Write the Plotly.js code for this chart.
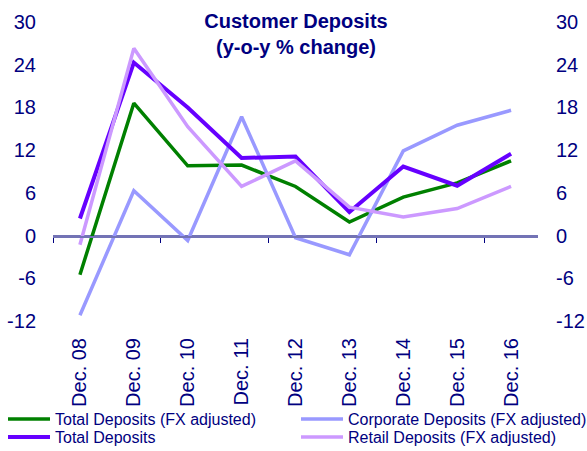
<!DOCTYPE html>
<html>
<head>
<meta charset="utf-8">
<script src="https://cdn.plot.ly/plotly-3.0.1.min.js"></script>
<style>html,body{margin:0;padding:0;background:#fff;}#chart{width:587px;height:451px;}</style>
</head>
<body>
<div id="chart"></div>
<script>
const categories = ["Dec. 08","Dec. 09","Dec. 10","Dec. 11","Dec. 12","Dec. 13","Dec. 14","Dec. 15","Dec. 16"];
const totalFxAdjusted = [-5.5, 18.6, 9.8, 9.9, 6.9, 1.9, 5.4, 7.4, 10.5];
const corporateFxAdjusted = [-11.2, 6.3, -0.7, 16.7, -0.3, -2.7, 11.9, 15.5, 17.6];
const totalDeposits = [2.4, 24.3, 18.0, 10.9, 11.1, 3.3, 9.7, 7.0, 11.5];
const retailFxAdjusted = [-1.3, 26.3, 15.3, 6.9, 10.5, 4.0, 2.6, 3.8, 6.9];
const seriesNames = ["Total Deposits (FX adjusted)", "Corporate Deposits (FX adjusted)", "Total Deposits", "Retail Deposits (FX adjusted)"];
const yTickVals = [-12, -6, 0, 6, 12, 18, 24, 30];
const yTickText = ["-12", "-6", "0", "6", "12", "18", "24", "30"];
const xBoundaryTicks = [-0.5, 1.5, 3.5, 5.5, 7.5];

// category positions on the axis (one per category)
const xPos = categories.map((_, i) => i);

const navy = "#000080";
const axisBlue = "#7373B5";
const font = "Liberation Sans, Arial, sans-serif";
const yMin = -12, yMax = 30;
const zeroFrac = (0 - yMin) / (yMax - yMin);

const traces = [
  {x: xPos, y: totalFxAdjusted, name: seriesNames[0], type: "scatter", mode: "lines", line: {color: "#008000", width: 3.5}, legend: "legend"},
  {x: xPos, y: corporateFxAdjusted, name: seriesNames[1], type: "scatter", mode: "lines", line: {color: "#9999FF", width: 3.5}, legend: "legend2"},
  {x: xPos, y: totalDeposits, name: seriesNames[2], type: "scatter", mode: "lines", line: {color: "#6600FF", width: 4}, legend: "legend3"},
  {x: xPos, y: retailFxAdjusted, name: seriesNames[3], type: "scatter", mode: "lines", line: {color: "#CC99FF", width: 3.5}, legend: "legend4"},
  // invisible helpers so that the right-hand axis and the zero-line category axis get drawn
  {x: xPos, y: totalDeposits, yaxis: "y2", type: "scatter", mode: "lines", line: {width: 0}, opacity: 0, showlegend: false, hoverinfo: "skip"},
  {x: xPos, y: totalDeposits, xaxis: "x2", yaxis: "y3", type: "scatter", mode: "lines", line: {width: 0}, opacity: 0, showlegend: false, hoverinfo: "skip"}
];

function legendAt(x, yTop) {
  return {orientation: "v", xref: "container", yref: "container", x: x/587, xanchor: "left", y: 1 - yTop/451, yanchor: "top",
          font: {size: 16, color: navy, family: font}, itemwidth: 42, bgcolor: "rgba(0,0,0,0)", borderwidth: 0};
}

const layout = {
  width: 587, height: 451,
  margin: {l: 53, r: 49, t: 22, b: 130, autoexpand: false},
  paper_bgcolor: "#fff", plot_bgcolor: "rgba(0,0,0,0)",
  font: {family: font, color: navy, size: 20},
  showlegend: true,
  title: {text: "<b>Customer Deposits<br>(y-o-y % change)</b>", font: {size: 20, color: navy, family: font},
          x: 296/587, xanchor: "center", xref: "container", y: 1 - 28/451, yanchor: "middle", yref: "container", automargin: false},
  xaxis: {type: "linear", range: [-0.5, 8.5], automargin: false, anchor: "y",
          showline: false, showgrid: false, zeroline: false,
          tickmode: "array", tickvals: xPos, ticktext: categories, ticks: "", tickangle: -90,
          tickfont: {size: 20, color: navy}, ticklabelstandoff: 12},
  xaxis2: {type: "linear", range: [-0.5, 8.5], automargin: false, anchor: "y3", domain: [0, 1], side: "bottom",
           showline: true, linecolor: axisBlue, linewidth: 2, showgrid: false, zeroline: false,
           tickmode: "array", tickvals: xBoundaryTicks, ticks: "outside", ticklen: 5, tickcolor: navy, tickwidth: 1,
           showticklabels: false},
  yaxis: {range: [yMin, yMax], tickmode: "array", tickvals: yTickVals, ticktext: yTickText, showgrid: false,
          zeroline: true, zerolinecolor: axisBlue, zerolinewidth: 2, automargin: false,
          showline: false, ticks: "", tickfont: {size: 20, color: navy}, ticklabelstandoff: 16},
  yaxis2: {overlaying: "y", side: "right", anchor: "x", range: [yMin, yMax], tickmode: "array", tickvals: yTickVals, ticktext: yTickText, automargin: false,
           showgrid: false, zeroline: false, showline: false, ticks: "", tickfont: {size: 20, color: navy}, ticklabelstandoff: 17},
  yaxis3: {domain: [zeroFrac, 1], anchor: "x2", range: [0, yMax], showticklabels: false, showgrid: false, zeroline: false,
           showline: false, ticks: "", automargin: false},
  legend: legendAt(3, 402),
  legend2: legendAt(296, 402),
  legend3: legendAt(3, 420),
  legend4: legendAt(296, 420)
};

Plotly.newPlot("chart", traces, layout, {staticPlot: true, displayModeBar: false});
</script>
</body>
</html>
